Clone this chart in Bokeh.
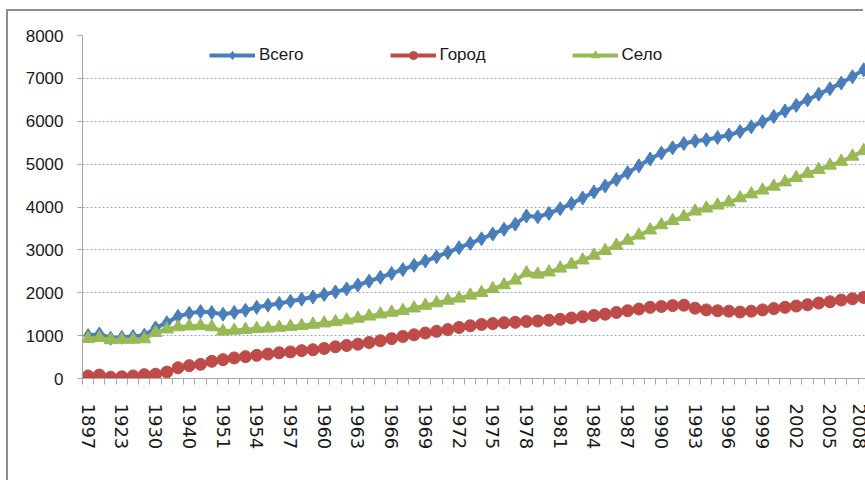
from bokeh.plotting import figure
from bokeh.models import Range1d, FixedTicker, Legend, LegendItem
from bokeh.embed import file_html
from bokeh.resources import INLINE

years = [1897, 1913, 1920, 1923, 1926, 1928, 1930, 1933, 1936, 1940, 1945, 1950,
         1951, 1952, 1953, 1954, 1955, 1956, 1957, 1958, 1959, 1960, 1961, 1962,
         1963, 1964, 1965, 1966, 1967, 1968, 1969, 1970, 1971, 1972, 1973, 1974,
         1975, 1976, 1977, 1978, 1979, 1980, 1981, 1982, 1983, 1984, 1985, 1986,
         1987, 1988, 1989, 1990, 1991, 1992, 1993, 1994, 1995, 1996, 1997, 1998,
         1999, 2000, 2001, 2002, 2003, 2004, 2005, 2006, 2007, 2008]

vsego = [1000, 1040, 940, 960, 980, 1010, 1180, 1300, 1450, 1520, 1560, 1540,
         1500, 1540, 1590, 1660, 1710, 1750, 1800, 1850, 1900, 1960, 2020, 2090,
         2180, 2270, 2360, 2450, 2540, 2640, 2740, 2840, 2940, 3050, 3150, 3260,
         3370, 3480, 3600, 3790, 3770, 3850, 3960, 4080, 4210, 4350, 4490, 4640,
         4800, 4960, 5120, 5260, 5380, 5480, 5540, 5570, 5620, 5680, 5760, 5870,
         5990, 6110, 6240, 6370, 6500, 6630, 6760, 6890, 7040, 7200]

gorod = [60, 80, 30, 40, 60, 90, 100, 150, 250, 300, 330, 400,
         440, 480, 510, 540, 570, 600, 620, 650, 670, 700, 740, 770,
         800, 840, 880, 930, 980, 1020, 1060, 1100, 1140, 1190, 1230, 1260,
         1280, 1300, 1310, 1330, 1340, 1360, 1380, 1410, 1440, 1470, 1500, 1540,
         1580, 1620, 1660, 1680, 1700, 1710, 1640, 1600, 1580, 1570, 1550, 1570,
         1600, 1630, 1660, 1690, 1720, 1760, 1790, 1830, 1860, 1890]

selo = [930, 950, 900, 910, 910, 920, 1070, 1150, 1200, 1220, 1230, 1200,
        1100, 1120, 1140, 1160, 1170, 1190, 1210, 1230, 1260, 1290, 1320, 1360,
        1400, 1450, 1500, 1540, 1580, 1640, 1700, 1760, 1820, 1870, 1940, 2000,
        2090, 2180, 2290, 2460, 2430, 2480, 2570, 2660, 2760, 2870, 2980, 3100,
        3220, 3340, 3460, 3580, 3680, 3770, 3900, 3970, 4040, 4110, 4210, 4300,
        4390, 4480, 4580, 4680, 4780, 4870, 4970, 5060, 5180, 5310]

y_ticks = [0, 1000, 2000, 3000, 4000, 5000, 6000, 7000, 8000]
series_names = ["Всего", "Город", "Село"]

idx = list(range(len(years)))

p = figure(width=857, height=471, output_backend="svg", toolbar_location=None,
           x_range=Range1d(-0.5, 69.16), y_range=Range1d(0, 8000),
           min_border_left=74, min_border_right=0, min_border_top=24,
           min_border_bottom=104)
p.styles = {"margin-left": "8px", "margin-top": "11px",
            "box-shadow": "-2px -2px 0px 0px #8C8C8C"}
p.outline_line_color = None
p.border_fill_color = None
p.background_fill_color = "white"

# grid
p.xgrid.grid_line_color = None
p.ygrid.ticker = FixedTicker(ticks=y_ticks)
p.ygrid.grid_line_color = "#8EAADB"
p.ygrid.grid_line_dash = "2 2"
p.ygrid.grid_line_width = 1

# y axis
p.yaxis.ticker = FixedTicker(ticks=y_ticks)
p.yaxis.axis_line_color = "#A6A6A6"
p.yaxis.major_tick_line_color = "#A6A6A6"
p.yaxis.major_tick_out = 5
p.yaxis.major_tick_in = 0
p.yaxis.minor_tick_line_color = None
p.yaxis.major_label_standoff = 14
p.yaxis.major_label_text_font = "Liberation Sans"
p.yaxis.major_label_text_font_size = "17px"
p.yaxis.major_label_text_color = "#1a1a1a"

# x axis
label_idx = idx[::3]
bounds = [i - 0.5 for i in idx] + [idx[-1] + 0.5]
p.xaxis.ticker = FixedTicker(ticks=label_idx, minor_ticks=bounds)
p.xaxis.major_label_overrides = {i: str(years[i]) for i in label_idx}
p.xaxis.axis_line_color = "#A6A6A6"
p.xaxis.major_tick_line_color = None
p.xaxis.major_tick_out = 0
p.xaxis.major_tick_in = 0
p.xaxis.minor_tick_line_color = "#A6A6A6"
p.xaxis.minor_tick_out = 6
p.xaxis.minor_tick_in = 0
p.xaxis.major_label_orientation = "vertical"
p.xaxis.major_label_standoff = 19
p.xaxis.major_label_text_font = "DejaVu Sans"
p.xaxis.major_label_text_font_size = "18px"
p.xaxis.major_label_text_color = "#1a1a1a"

blue = "#4A7EBB"
red = "#BE4B48"
green = "#98B954"

l1 = p.line(idx, vsego, line_color=blue, line_width=4)
m1 = p.scatter(idx, vsego, marker="diamond", size=14, fill_color=blue, line_color=blue)
l2 = p.line(idx, gorod, line_color=red, line_width=4)
m2 = p.scatter(idx, gorod, marker="circle", size=12, fill_color=red, line_color=red)
l3 = p.line(idx, selo, line_color=green, line_width=4)
m3 = p.scatter(idx, selo, marker="triangle", size=13, fill_color=green, line_color=green)

legend = Legend(items=[LegendItem(label=series_names[0], renderers=[l1, m1]),
                       LegendItem(label=series_names[1], renderers=[l2, m2]),
                       LegendItem(label=series_names[2], renderers=[l3, m3])],
                location=(127, 313), orientation="horizontal",
                background_fill_color="white", background_fill_alpha=1.0,
                border_line_color=None, padding=7, spacing=86,
                glyph_width=46, glyph_height=20, label_standoff=4,
                label_text_font="Liberation Sans", label_text_font_size="17px",
                label_text_color="#1a1a1a", margin=0)
p.add_layout(legend)

open("out.html", "w").write(file_html(p, INLINE))
